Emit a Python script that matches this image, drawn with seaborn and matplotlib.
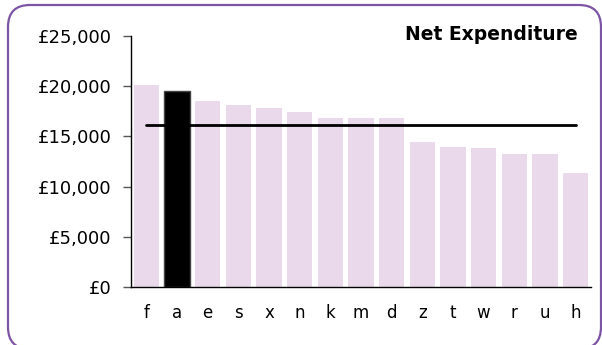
import numpy as np
import seaborn as sns
import matplotlib.pyplot as plt
from matplotlib.patches import FancyBboxPatch

authorities = ['f', 'a', 'e', 's', 'x', 'n', 'k', 'm', 'd', 'z', 't', 'w', 'r', 'u', 'h']
net_expenditure = [20100, 19500, 18500, 18100, 17800, 17400, 16800, 16800, 16800,
                   14400, 13900, 13800, 13200, 13200, 11400]
highlight = 'a'
average = 16100

sns.set_style('white')
plt.rcParams['font.family'] = ['DejaVu Sans']
plt.rcParams['text.color'] = 'black'
plt.rcParams['xtick.color'] = 'black'
plt.rcParams['ytick.color'] = 'black'

fig = plt.figure(figsize=(6.02, 3.45), dpi=100)

# rounded frame drawn in pixel coordinates (y up)
bg = fig.add_axes([0, 0, 1, 1])
bg.set_xlim(0, 602)
bg.set_ylim(0, 345)
bg.axis('off')
bg.add_patch(FancyBboxPatch((8, -4), 593, 344, boxstyle='round,pad=0,rounding_size=22',
                            fill=False, edgecolor='#7d55a5', lw=1.6))

ax = fig.add_axes([0.2176, 0.168, 0.764, 0.728])

colors = ['#000000' if c == highlight else '#ead9eb' for c in authorities]
sns.barplot(x=authorities, y=net_expenditure, hue=authorities, palette=colors,
            legend=False, width=0.82, saturation=1, ax=ax)
for patch, c in zip(ax.patches, authorities):
    if c == highlight:
        patch.set_edgecolor('#444444')
        patch.set_linewidth(1.0)
    else:
        patch.set_linewidth(0)

ax.plot(range(len(authorities)), [average] * len(authorities), color='black', lw=2, zorder=5)

ax.set_ylim(0, 25000)
ax.set_xlim(-0.5, len(authorities) - 0.5)
ax.set_yticks(range(0, 25001, 5000))
ax.set_yticklabels([f'£{v:,}' for v in range(0, 25001, 5000)], fontsize=13)
ax.tick_params(axis='y', length=6, width=1, color='#555555', pad=8, left=True)
ax.tick_params(axis='x', length=0, pad=12, labelsize=12)
for side in ['top', 'right']:
    ax.spines[side].set_visible(False)
for side in ['left', 'bottom']:
    ax.spines[side].set_color('black')
    ax.spines[side].set_linewidth(1)

fig.text(0.96, 0.9, 'Net Expenditure', ha='right', va='center', fontsize=13.5, fontweight='bold')

fig.savefig('out.png', dpi=100)
